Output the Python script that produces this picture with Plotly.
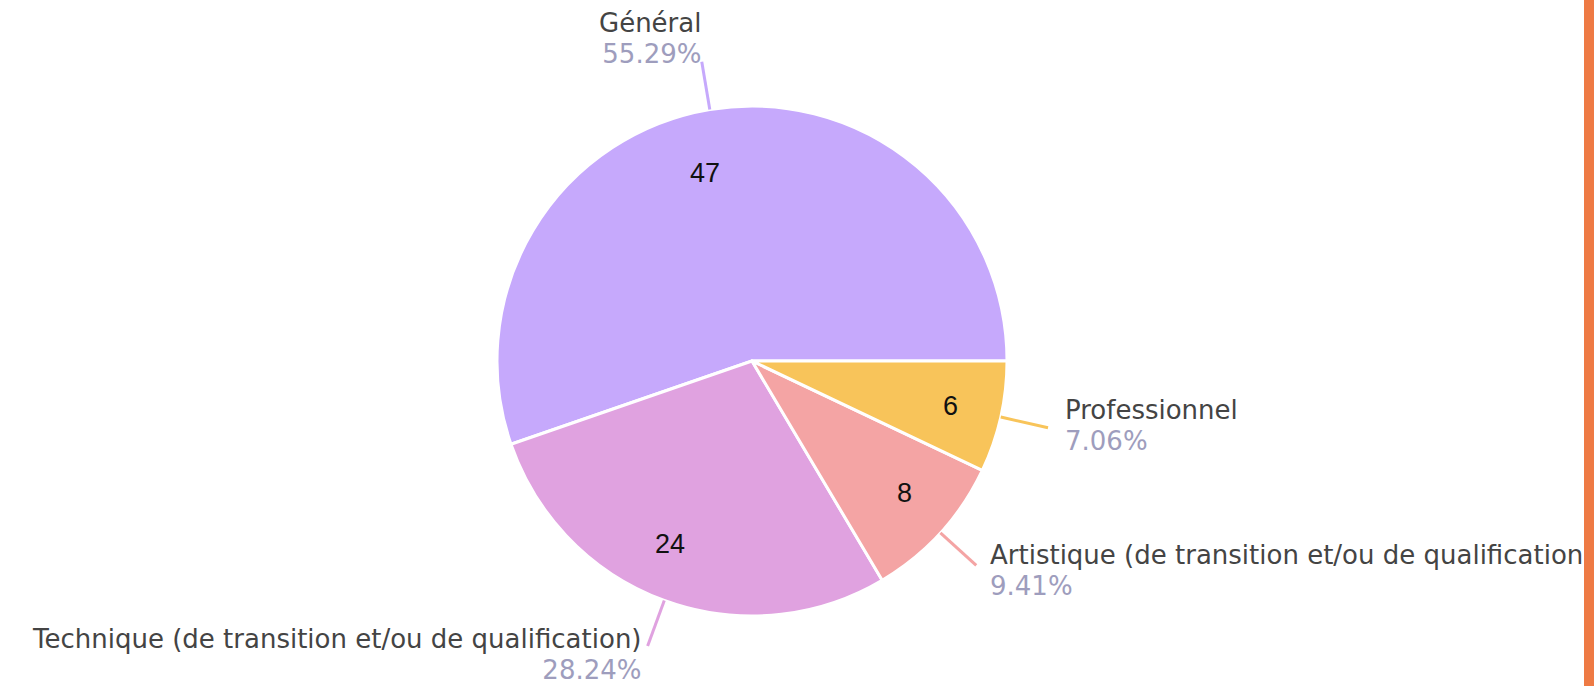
import math
import plotly.graph_objects as go

# ---------------- data ----------------
categories = [
    "Général",
    "Technique (de transition et/ou de qualification)",
    "Artistique (de transition et/ou de qualification)",
    "Professionnel",
]
values = [47, 24, 8, 6]

# ---------------- styles ----------------
slice_colors = ["#c6a9fc", "#e0a2e0", "#f4a4a4", "#f8c45a"]
W, H = 1594, 686
CX, CY, R = 752, 361, 255          # pie centre / radius in pixels
START_DEG = 90                     # first slice starts at 3 o'clock, goes counterclockwise
LEADER_OUT = 1.19                  # leader line end (fraction of R)
INNER_R = 0.78                     # value label radius (fraction of R)
inner_nudge = [(-14, 8), (-14, -4), (6, -2), (4, 1)]
# label block offsets from the leader-line end
label_style = [
    dict(anchor="right", dx=1, dy=-23),
    dict(anchor="right", dx=-4, dy=9),
    dict(anchor="left", dx=12, dy=5),
    dict(anchor="left", dx=15, dy=-2),
]
NAME_COLOR = "#444444"
PCT_COLOR = "#9e9dbd"
TEXT_FONT = "DejaVu Sans"
TEXT_SIZE = 26
LINE_BASE = 24                     # base size -> line spacing 1.3 * 24 px
VALUE_FONT = "Liberation Sans"
VALUE_SIZE = 27
BAR_COLOR = "#ee7a44"
BAR_W = 10


def px(x):
    return x / W


def py(y):
    return 1 - y / H


total = sum(values)

# plotly (counterclockwise): first slice lies clockwise of `rotation`
rotation = START_DEG - 360 * values[0] / total

fig = go.Figure(
    go.Pie(
        labels=categories,
        values=values,
        sort=False,
        direction="counterclockwise",
        rotation=rotation,
        marker=dict(colors=slice_colors, line=dict(color="white", width=3)),
        textinfo="none",
        hoverinfo="skip",
        showlegend=False,
        domain=dict(x=[px(CX - R), px(CX + R)], y=[py(CY + R), py(CY - R)]),
    )
)

annotations = []
shapes = []
cum = 0
for i, v in enumerate(values):
    # mid angle, math convention (ccw from east)
    mid = math.radians((cum + v / 2) / total * 360)
    cum += v
    c, s = math.cos(mid), math.sin(mid)
    # inner value label
    ix = CX + INNER_R * R * c + inner_nudge[i][0]
    iy = CY - INNER_R * R * s + inner_nudge[i][1]
    annotations.append(dict(
        x=px(ix), y=py(iy), xref="paper", yref="paper", showarrow=False,
        text=str(v), xanchor="center", yanchor="middle",
        font=dict(family=VALUE_FONT, size=VALUE_SIZE, color="#111111"),
    ))
    # leader line
    sx, sy = CX + R * c, CY - R * s
    ex, ey = CX + LEADER_OUT * R * c, CY - LEADER_OUT * R * s
    shapes.append(dict(
        type="line", xref="paper", yref="paper",
        x0=px(sx), y0=py(sy), x1=px(ex), y1=py(ey),
        line=dict(color=slice_colors[i], width=3),
    ))
    st = label_style[i]
    pct = f"{v / total * 100:.2f}%"
    txt = (f"<span style='font-size:{TEXT_SIZE}px;fill:{NAME_COLOR}'>{categories[i]}</span>"
           f"<br><span style='font-size:{TEXT_SIZE}px;fill:{PCT_COLOR}'>{pct}</span>")
    annotations.append(dict(
        x=px(ex + st["dx"]), y=py(ey + st["dy"]), xref="paper", yref="paper",
        showarrow=False, text=txt, xanchor=st["anchor"], yanchor="middle",
        align=st["anchor"],
        font=dict(family=TEXT_FONT, size=LINE_BASE, color=NAME_COLOR),
    ))

# orange bar on the right edge (drawn last so it covers overflowing text)
annotations.append(dict(
    x=1, y=0.5, xref="paper", yref="paper", showarrow=False, text=" ",
    xanchor="right", yanchor="middle", width=BAR_W, height=H + 20,
    bgcolor=BAR_COLOR, borderpad=0, borderwidth=0,
))

fig.update_layout(
    width=W, height=H,
    margin=dict(l=0, r=0, t=0, b=0),
    paper_bgcolor="white", plot_bgcolor="white",
    annotations=annotations, shapes=shapes,
)

fig.write_html(
    "out.html",
    config={"displayModeBar": False},
    post_script="document.body.style.margin='0';document.body.style.overflow='hidden';",
)
